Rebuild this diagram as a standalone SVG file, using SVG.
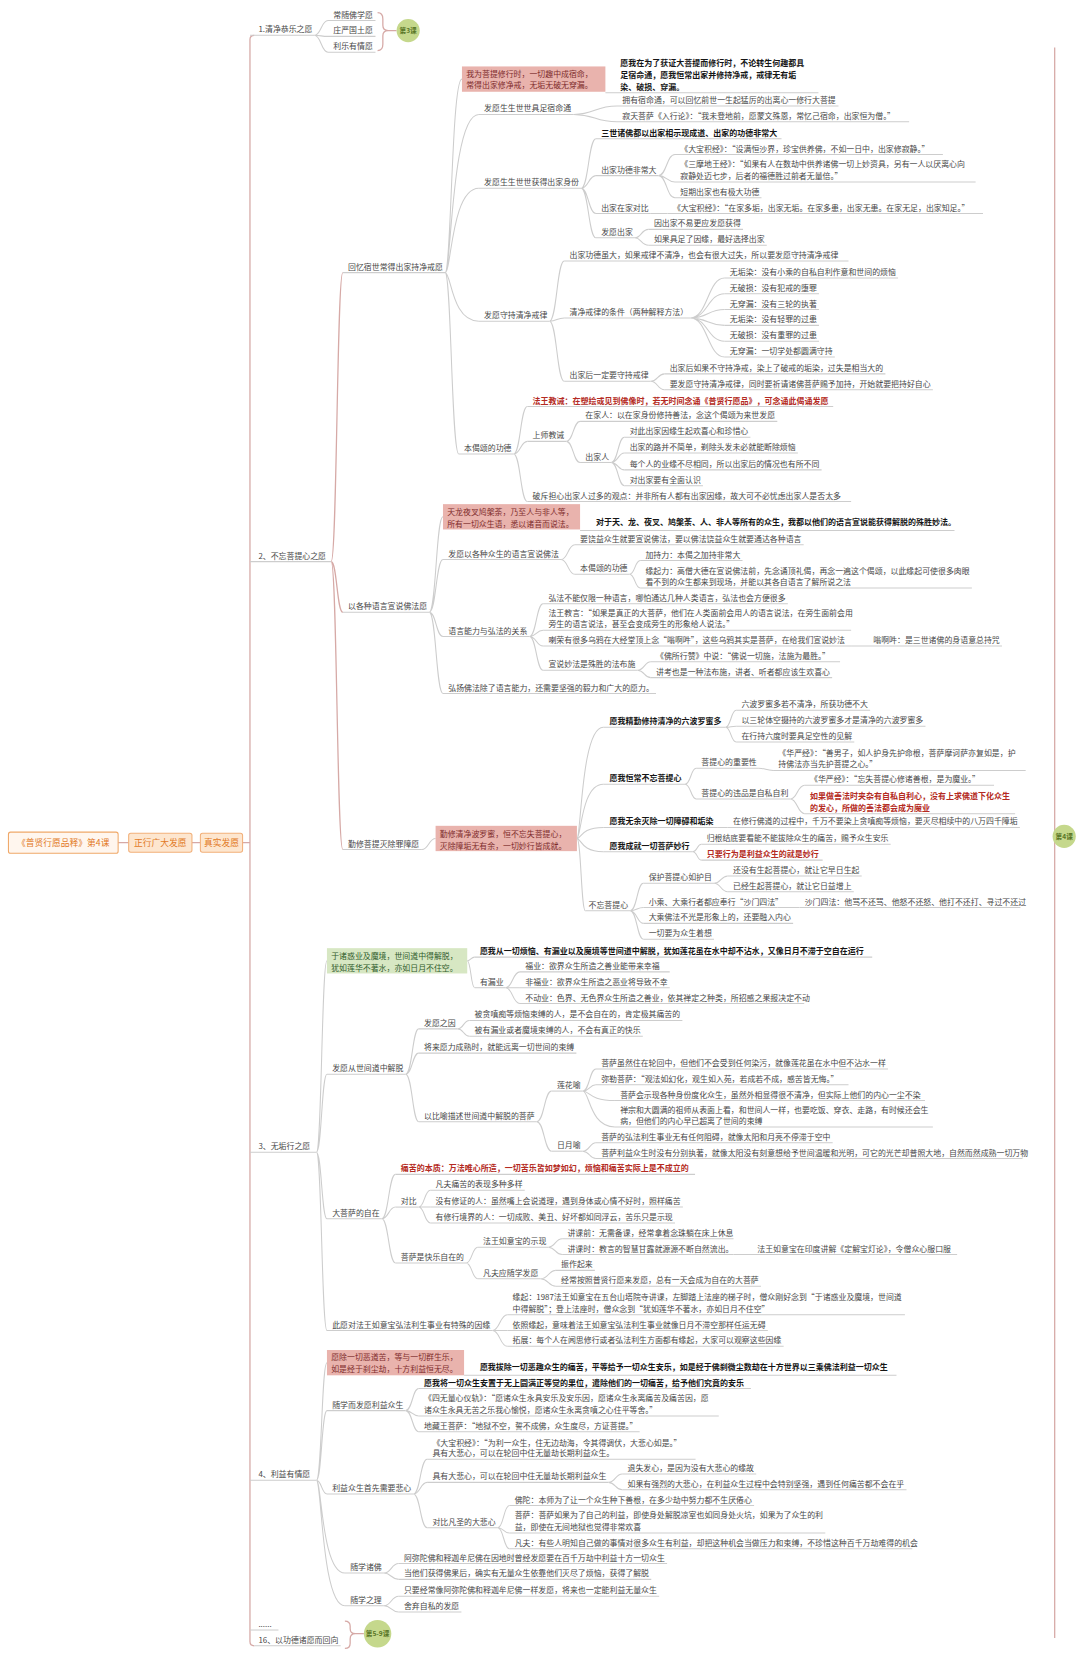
<svg xmlns="http://www.w3.org/2000/svg" width="1080" height="1654" viewBox="0 0 1080 1654">
<style>
.t{font-family:"Noto Sans CJK SC","Noto Sans CJK JP","Noto Sans",sans-serif;font-size:7.5px;fill:#474747}
.b{font-size:7.6px;font-weight:700;fill:#151515}
.r{font-size:7.6px;font-weight:700;fill:#b42a22}
.p{fill:#7e2c2c}
.g{fill:#2f5b2b}
.o{fill:#e27a26;font-size:8.3px}
.u{fill:none;stroke:#cdcdcd;stroke-width:1}
.c{fill:none;stroke:#cdcdcd;stroke-width:1}
.m{fill:none;stroke:#d6a9a6;stroke-width:1.2}
.pb{fill:#e9b3ad}
.gb{fill:#d7e7c3}
.gc{fill:#c5d88c}
.gt{font-size:6.3px;font-weight:700;fill:#587526;text-anchor:middle}
</style>
<rect width="1080" height="1654" fill="#ffffff"/>
<g transform="scale(1.0546875)">
<g id="connectors">
<path class="m" d="M112 799H122M182 799H190M230 799H237M241 33.5Q237 33.5 237 37.5V1556.5Q237 1560.5 241 1560.5"/>
<path class="m" d="M1000 45V1553"/>
<path class="m" d="M358 12Q363 12 363 18V24Q363 29 368 29Q363 29 363 34V42Q363 48 358 48M368 29H376"/>
<path class="m" d="M327 1537Q332 1537 332 1542V1544Q332 1549 337 1549Q332 1549 332 1554V1558Q332 1563 327 1563M337 1549H345"/>
<path class="c" d="M298 33.5C304.5 33.5 304.5 19.5 311 19.5M298 33.5C304.5 33.5 304.5 34.5 311 34.5M298 33.5C304.5 33.5 304.5 49.5 311 49.5"/>
<path class="m" d="M314 532.5C319.5 532.5 319.5 258.5 325 258.5M314 532.5C319.5 532.5 319.5 580.5 325 580.5M314 532.5C319.5 532.5 319.5 805.5 325 805.5"/>
<path class="c" d="M422 258.5C428 258.5 428 75 438 75M422 258.5C428 258.5 428 108.5 454 108.5M422 258.5C428 258.5 428 178.5 454 178.5M422 258.5C428 258.5 428 304.5 454 304.5M422 258.5C428 258.5 428 430.5 435 430.5"/>
<path class="c" d="M544 108.5C564 108.5 564 100.5 585 100.5M544 108.5C564 108.5 564 115.5 585 115.5"/>
<path class="c" d="M551 178.5C558 178.5 558 131.5 565 131.5M551 178.5C558 178.5 558 166.5 565 166.5M551 178.5C558 178.5 558 202.5 565 202.5M551 178.5C558 178.5 558 225.5 565 225.5"/>
<path class="c" d="M624.5 166.5C632 166.5 632 146.5 640 146.5M624.5 166.5C632 166.5 632 172.5 640 172.5M624.5 166.5C632 166.5 632 187.5 640 187.5M617 202.5H633M602 225.5C608 225.5 608 217.5 615 217.5M602 225.5C608 225.5 608 232.5 615 232.5"/>
<path class="c" d="M521 304.5C528 304.5 528 247.5 535 247.5M521 304.5C528 304.5 528 301.5 535 301.5M521 304.5C528 304.5 528 361.5 535 361.5"/>
<path class="c" d="M654.5 301.5C671 301.5 671 263.5 687 263.5M654.5 301.5C671 301.5 671 278.5 687 278.5M654.5 301.5C671 301.5 671 293.5 687 293.5M654.5 301.5C671 301.5 671 308.5 687 308.5M654.5 301.5C671 301.5 671 323.5 687 323.5M654.5 301.5C671 301.5 671 338.5 687 338.5"/>
<path class="c" d="M617 361.5C623.5 361.5 623.5 354.5 630 354.5M617 361.5C623.5 361.5 623.5 369.5 630 369.5"/>
<path class="c" d="M487 430.5C493.5 430.5 493.5 385.5 500 385.5M487 430.5C493.5 430.5 493.5 418.5 500 418.5M487 430.5C493.5 430.5 493.5 475.5 500 475.5M537 418.5C543.5 418.5 543.5 399.5 550 399.5M537 418.5C543.5 418.5 543.5 438.5 550 438.5"/>
<path class="c" d="M579.5 438.5C586 438.5 586 414.5 592 414.5M579.5 438.5C586 438.5 586 429.5 592 429.5M579.5 438.5C586 438.5 586 445.5 592 445.5M579.5 438.5C586 438.5 586 460.5 592 460.5"/>
<path class="c" d="M407 580.5C413.5 580.5 413.5 490 420 490M407 580.5C413.5 580.5 413.5 530.5 420 530.5M407 580.5C413.5 580.5 413.5 603.5 420 603.5M407 580.5C413.5 580.5 413.5 657.5 420 657.5"/>
<path class="c" d="M532 530.5C538.5 530.5 538.5 516.5 545 516.5M532 530.5C538.5 530.5 538.5 544.5 545 544.5M597 544.5C602 544.5 602 531.5 607 531.5M597 544.5C602 544.5 602 557.5 607 557.5"/>
<path class="c" d="M502 603.5C508.5 603.5 508.5 572.5 515 572.5M502 603.5C508.5 603.5 508.5 597.5 515 597.5M502 603.5C508.5 603.5 508.5 612.5 515 612.5M502 603.5C508.5 603.5 508.5 635.5 515 635.5M807 612.5H823M604.5 635.5C611 635.5 611 627.5 617 627.5M604.5 635.5C611 635.5 611 642.5 617 642.5"/>
<path class="c" d="M400 805.5C406.5 805.5 406.5 795 413 795"/>
<path class="c" d="M547 795C551 795 551 689.5 572 689.5M547 795C551 795 551 743.5 572 743.5M547 795C551 795 551 784.5 572 784.5M547 795C551 795 551 807.5 572 807.5M547 795C551 795 551 863.5 555 863.5"/>
<path class="c" d="M688 689.5C693 689.5 693 673.5 698 673.5M688 689.5C693 689.5 693 688.5 698 688.5M688 689.5C693 689.5 693 703.5 698 703.5M649.5 743.5C655 743.5 655 728.5 660 728.5M649.5 743.5C655 743.5 655 757.5 660 757.5M719.5 728.5C726 728.5 726 730.5 733 730.5M749.5 757.5C756 757.5 756 744.5 763 744.5M749.5 757.5C756 757.5 756 771.5 763 771.5M680 784.5H690M657 807.5C661 807.5 661 800.5 665 800.5M657 807.5C661 807.5 661 815.5 665 815.5"/>
<path class="c" d="M597.5 863.5C604 863.5 604 837.5 610 837.5M597.5 863.5C604 863.5 604 860.5 610 860.5M597.5 863.5C604 863.5 604 875.5 610 875.5M597.5 863.5C604 863.5 604 890.5 610 890.5M677 837.5C683.5 837.5 683.5 830.5 690 830.5M677 837.5C683.5 837.5 683.5 845.5 690 845.5M737 860.5H758"/>
<path class="c" d="M300 1092.5C305 1092.5 305 911 310 911M300 1092.5C305 1092.5 305 1018.5 310 1018.5M300 1092.5C305 1092.5 305 1155.5 310 1155.5M300 1092.5C305 1092.5 305 1261.5 310 1261.5"/>
<path class="c" d="M443 911C446.5 911 446.5 907.5 450 907.5M443 911C446.5 911 446.5 936.5 450 936.5M479.5 936.5C486 936.5 486 921.5 493 921.5M479.5 936.5C486 936.5 486 936.5 493 936.5M479.5 936.5C486 936.5 486 951.5 493 951.5"/>
<path class="c" d="M384.5 1018.5C391 1018.5 391 975.5 397 975.5M384.5 1018.5C391 1018.5 391 998.5 397 998.5M384.5 1018.5C391 1018.5 391 1063.5 397 1063.5M434 975.5C439.5 975.5 439.5 967.5 445 967.5M434 975.5C439.5 975.5 439.5 982.5 445 982.5"/>
<path class="c" d="M509 1063.5C516 1063.5 516 1034.5 523 1034.5M509 1063.5C516 1063.5 516 1091.5 523 1091.5M552.5 1034.5C559 1034.5 559 1013.5 565 1013.5M552.5 1034.5C559 1034.5 559 1028.5 565 1028.5M552.5 1034.5C559 1034.5 559 1043.5 583 1043.5M552.5 1034.5C559 1034.5 559 1068.5 583 1068.5M552.5 1091.5C559 1091.5 559 1083.5 565 1083.5M552.5 1091.5C559 1091.5 559 1098.5 565 1098.5"/>
<path class="c" d="M362 1155.5C368.5 1155.5 368.5 1113.5 375 1113.5M362 1155.5C368.5 1155.5 368.5 1144.5 375 1144.5M362 1155.5C368.5 1155.5 368.5 1197.5 375 1197.5M397 1144.5C402.5 1144.5 402.5 1128.5 408 1128.5M397 1144.5H408M397 1144.5C402.5 1144.5 402.5 1159.5 408 1159.5"/>
<path class="c" d="M442 1197.5C447.5 1197.5 447.5 1182.5 453 1182.5M442 1197.5C447.5 1197.5 447.5 1212.5 453 1212.5M520 1182.5C526.5 1182.5 526.5 1174.5 533 1174.5M520 1182.5C526.5 1182.5 526.5 1189.5 533 1189.5M695.5 1189.5H713M512.5 1212.5C520 1212.5 520 1204.5 527 1204.5M512.5 1212.5C520 1212.5 520 1219.5 527 1219.5"/>
<path class="c" d="M467 1261.5C474 1261.5 474 1246.5 481 1246.5M467 1261.5H481M467 1261.5C474 1261.5 474 1276.5 481 1276.5"/>
<path class="c" d="M300 1403.5C305 1403.5 305 1292 310 1292M300 1403.5C305 1403.5 305 1337.5 310 1337.5M300 1403.5C305 1403.5 305 1416.5 310 1416.5M300 1403.5C305 1403.5 305 1491.5 327 1491.5M300 1403.5C305 1403.5 305 1522.5 327 1522.5"/>
<path class="c" d="M384.5 1337.5C391 1337.5 391 1316.5 397 1316.5M384.5 1337.5C391 1337.5 391 1342.5 397 1342.5M384.5 1337.5C391 1337.5 391 1357.5 397 1357.5"/>
<path class="c" d="M392 1416.5C398.5 1416.5 398.5 1383.5 405 1383.5M392 1416.5C398.5 1416.5 398.5 1405.5 405 1405.5M392 1416.5C398.5 1416.5 398.5 1448.5 405 1448.5M577 1405.5C583.5 1405.5 583.5 1397.5 590 1397.5M577 1405.5C583.5 1405.5 583.5 1412.5 590 1412.5"/>
<path class="c" d="M472 1448.5C477.5 1448.5 477.5 1427.5 483 1427.5M472 1448.5C477.5 1448.5 477.5 1453.5 483 1453.5M472 1448.5C477.5 1448.5 477.5 1468.5 483 1468.5"/>
<path class="c" d="M364 1491.5C371 1491.5 371 1482.5 378 1482.5M364 1491.5C371 1491.5 371 1497.5 378 1497.5M364 1522.5C371 1522.5 371 1513.5 378 1513.5M364 1522.5C371 1522.5 371 1528.5 378 1528.5"/>
</g>

<g id="root"><rect x="8" y="789" width="104" height="20" rx="2" fill="#fff6ee" stroke="#f0a868"/><text class="t o" x="60" y="801.8" text-anchor="middle">《普贤行愿品释》第4课</text></g>
<g id="n-zhengxing"><rect x="122" y="790" width="60" height="18" rx="2" fill="#fde6cf" stroke="#f2b07a"/><text class="t o" x="152" y="801.8" text-anchor="middle">正行广大发愿</text></g>
<g id="n-zhenshi"><rect x="190" y="790" width="40" height="18" rx="2" fill="#fde6cf" stroke="#f2b07a"/><text class="t o" x="210" y="801.8" text-anchor="middle">真实发愿</text></g>

<g id="lesson-3"><circle class="gc" cx="387" cy="29" r="11"/><text class="t gt" x="387" y="31.3">第3课</text></g>
<g id="lesson-4"><circle class="gc" cx="1009" cy="793" r="11"/><text class="t gt" x="1009" y="795.3">第4课</text></g>
<g id="lesson-5-9"><circle class="gc" cx="358" cy="1549" r="13"/><text class="t gt" x="358" y="1551.3">第5-9课</text></g>

<g id="s1"><text class="t" x="245" y="30.7">1.清净恭乐之愿</text><path class="u" d="M237 33.5H298"/></g>
<g id="s1-1"><text class="t" x="316" y="16.7">常随佛学愿</text><path class="u" d="M311 19.5H356"/></g>
<g id="s1-2"><text class="t" x="316" y="31.7">庄严国土愿</text><path class="u" d="M311 34.5H356"/></g>
<g id="s1-3"><text class="t" x="316" y="46.7">利乐有情愿</text><path class="u" d="M311 49.5H356"/></g>
<g id="s2"><text class="t" x="245" y="529.7">2、不忘菩提心之愿</text><path class="u" d="M237 532.5H314"/></g>
<g id="s3"><text class="t" x="245" y="1089.7">3、无垢行之愿</text><path class="u" d="M237 1092.5H300"/></g>
<g id="s4"><text class="t" x="245" y="1400.7">4、利益有情愿</text><path class="u" d="M237 1403.5H300"/></g>
<g id="s5"><text class="t" x="245" y="1542.7">......</text><path class="u" d="M237 1545.5H264"/></g>
<g id="s16"><text class="t" x="245" y="1557.7">16、以功德诸愿而回向</text><path class="u" d="M241 1560.5H323"/></g>

<g id="a"><text class="t" x="330" y="255.7">回忆宿世常得出家持净戒愿</text><path class="u" d="M325 258.5H422"/></g>
<g id="a1"><rect class="pb" x="438" y="63" width="136" height="24"/><text class="t p" x="442" y="72.7">我为菩提修行时，一切趣中成宿命，</text><text class="t p" x="442" y="83.7">常得出家修净戒，无垢无破无穿漏。</text>
<text class="t b" x="588" y="62.9">愿我在为了获证大菩提而修行时，不论转生何趣都具</text><text class="t b" x="588" y="73.9">足宿命通，愿我恒常出家并修持净戒，戒律无有垢</text><text class="t b" x="588" y="84.9">染、破损、穿漏。</text><path class="u" d="M574 88H776"/></g>
<g id="a2"><text class="t" x="459" y="105.7">发愿生生世世具足宿命通</text><path class="u" d="M454 108.5H544"/></g>
<g id="a2-1"><text class="t" x="590" y="97.7">拥有宿命通，可以回忆前世一生起猛厉的出离心一修行大菩提</text><path class="u" d="M585 100.5H795"/></g>
<g id="a2-2"><text class="t" x="590" y="112.7">寂天菩萨《入行论》：“我未登地前，愿蒙文殊恩，常忆己宿命，出家恒为僧。”</text><path class="u" d="M585 115.5H862"/></g>
<g id="a3"><text class="t" x="459" y="175.7">发愿生生世世获得出家身份</text><path class="u" d="M454 178.5H551"/></g>
<g id="a3-1"><text class="t b" x="570" y="128.7">三世诸佛都以出家相示现成道、出家的功德非常大</text><path class="u" d="M565 131.5H741"/></g>
<g id="a3-2"><text class="t" x="570" y="163.7">出家功德非常大</text><path class="u" d="M565 166.5H624.5"/></g>
<g id="a3-2-1"><text class="t" x="645" y="143.7">《大宝积经》：“设满恒沙界，珍宝供养佛，不如一日中，出家修寂静。”</text><path class="u" d="M640 146.5H894"/></g>
<g id="a3-2-2"><text class="t" x="645" y="158.7">《三摩地王经》：“如果有人在数劫中供养诸佛一切上妙资具，另有一人以厌离心向</text><text class="t" x="645" y="169.7">寂静处迈七步，后者的福德胜过前者无量倍。”</text><path class="u" d="M640 172.5H925" stroke="#e3b7b7"/></g>
<g id="a3-2-3"><text class="t" x="645" y="184.7">短期出家也有极大功德</text><path class="u" d="M640 187.5H722"/></g>
<g id="a3-3"><text class="t" x="570" y="199.7">出家在家对比</text><path class="u" d="M565 202.5H617"/></g>
<g id="a3-3-1"><text class="t" x="638" y="199.7">《大宝积经》：“在家多垢，出家无垢。在家多患，出家无患。在家无足，出家知足。”</text><path class="u" d="M633 202.5H932"/></g>
<g id="a3-4"><text class="t" x="570" y="222.7">发愿出家</text><path class="u" d="M565 225.5H602"/></g>
<g id="a3-4-1"><text class="t" x="620" y="214.7">因出家不易更应发愿获得</text><path class="u" d="M615 217.5H704.5"/></g>
<g id="a3-4-2"><text class="t" x="620" y="229.7">如果具足了因缘，最好选择出家</text><path class="u" d="M615 232.5H727"/></g>
<g id="a4"><text class="t" x="459" y="301.7">发愿守持清净戒律</text><path class="u" d="M454 304.5H521"/></g>
<g id="a4-1"><text class="t" x="540" y="244.7">出家功德虽大，如果戒律不清净，也会有很大过失，所以要发愿守持清净戒律</text><path class="u" d="M535 247.5H804.5"/></g>
<g id="a4-2"><text class="t" x="540" y="298.7">清净戒律的条件（两种解释方法）</text><path class="u" d="M535 301.5H654.5"/></g>
<g id="a4-2-1"><text class="t" x="692" y="260.7">无垢染：没有小乘的自私自利作意和世间的烦恼</text><path class="u" d="M687 263.5H851.5"/></g>
<g id="a4-2-2"><text class="t" x="692" y="275.7">无破损：没有犯戒的堕罪</text><path class="u" d="M687 278.5H776.5"/></g>
<g id="a4-2-3"><text class="t" x="692" y="290.7">无穿漏：没有三轮的执著</text><path class="u" d="M687 293.5H776.5"/></g>
<g id="a4-2-4"><text class="t" x="692" y="305.7">无垢染：没有轻罪的过患</text><path class="u" d="M687 308.5H776.5"/></g>
<g id="a4-2-5"><text class="t" x="692" y="320.7">无破损：没有重罪的过患</text><path class="u" d="M687 323.5H776.5"/></g>
<g id="a4-2-6"><text class="t" x="692" y="335.7">无穿漏：一切学处都圆满守持</text><path class="u" d="M687 338.5H791.5"/></g>
<g id="a4-3"><text class="t" x="540" y="358.7">出家后一定要守持戒律</text><path class="u" d="M535 361.5H617"/></g>
<g id="a4-3-1"><text class="t" x="635" y="351.7">出家后如果不守持净戒，染上了破戒的垢染，过失是相当大的</text><path class="u" d="M630 354.5H839.5"/></g>
<g id="a4-3-2"><text class="t" x="635" y="366.7">要发愿守持清净戒律，同时要祈请诸佛菩萨赐予加持，开始就要把持好自心</text><path class="u" d="M630 369.5H884.5"/></g>
<g id="a5"><text class="t" x="440" y="427.7">本偈颂的功德</text><path class="u" d="M435 430.5H487"/></g>
<g id="a5-1"><text class="t r" x="505" y="382.7">法王教诫：在塑绘或见到佛像时，若无时间念诵《普贤行愿品》，可念诵此偈诵发愿</text><path class="u" d="M500 385.5H790"/></g>
<g id="a5-2"><text class="t" x="505" y="415.7">上师教诫</text><path class="u" d="M500 418.5H537"/></g>
<g id="a5-2-1"><text class="t" x="555" y="396.7">在家人：以在家身份修持善法，念这个偈颂为来世发愿</text><path class="u" d="M550 399.5H737"/></g>
<g id="a5-2-2"><text class="t" x="555" y="435.7">出家人</text><path class="u" d="M550 438.5H579.5"/></g>
<g id="a5-2-2-1"><text class="t" x="597" y="411.7">对此出家因缘生起欢喜心和珍惜心</text><path class="u" d="M592 414.5H711.5"/></g>
<g id="a5-2-2-2"><text class="t" x="597" y="426.7">出家的路并不简单，剃除头发未必就能断除烦恼</text><path class="u" d="M592 429.5H756.5"/></g>
<g id="a5-2-2-3"><text class="t" x="597" y="442.7">每个人的业缘不尽相同，所以出家后的情况也有所不同</text><path class="u" d="M592 445.5H779"/></g>
<g id="a5-2-2-4"><text class="t" x="597" y="457.7">对出家要有全面认识</text><path class="u" d="M592 460.5H666.5"/></g>
<g id="a5-3"><text class="t" x="505" y="472.7">破斥担心出家人过多的观点：并非所有人都有出家因缘，故大可不必忧虑出家人是否太多</text><path class="u" d="M500 475.5H807"/></g>

<g id="b"><text class="t" x="330" y="577.7">以各种语言宣说佛法愿</text><path class="u" d="M325 580.5H407"/></g>
<g id="b1"><rect class="pb" x="420" y="478" width="130" height="24"/><text class="t p" x="424" y="488.7">天龙夜叉鸠槃荼，乃至人与非人等，</text><text class="t p" x="424" y="499.7">所有一切众生语，悉以诸音而说法。</text><text class="t b" x="565" y="497.9">对于天、龙、夜叉、鸠槃荼、人、非人等所有的众生，我都以他们的语言宣说能获得解脱的殊胜妙法。</text><path class="u" d="M550 503H905"/></g>
<g id="b2"><text class="t" x="425" y="527.7">发愿以各种众生的语言宣说佛法</text><path class="u" d="M420 530.5H532"/></g>
<g id="b2-1"><text class="t" x="550" y="513.7">要饶益众生就要宣说佛法，要以佛法饶益众生就要通达各种语言</text><path class="u" d="M545 516.5H762"/></g>
<g id="b2-2"><text class="t" x="550" y="541.7">本偈颂的功德</text><path class="u" d="M545 544.5H597"/></g>
<g id="b2-2-1"><text class="t" x="612" y="528.7">加持力：本偈之加持非常大</text><path class="u" d="M607 531.5H704"/></g>
<g id="b2-2-2"><text class="t" x="612" y="544.7">缘起力：高僧大德在宣说佛法前，先念诵顶礼偈，再念一遍这个偈颂，以此缘起可使很多肉眼</text><text class="t" x="612" y="554.7">看不到的众生都来到现场，并能以其各自语言了解所说之法</text><path class="u" d="M607 557.5H921.5"/></g>
<g id="b3"><text class="t" x="425" y="600.7">语言能力与弘法的关系</text><path class="u" d="M420 603.5H502"/></g>
<g id="b3-1"><text class="t" x="520" y="569.7">弘法不能仅限一种语言，哪怕通达几种人类语言，弘法也会方便很多</text><path class="u" d="M515 572.5H747"/></g>
<g id="b3-2"><text class="t" x="520" y="583.7">法王教言：“如果是真正的大菩萨，他们在人类面前会用人的语言说法，在旁生面前会用</text><text class="t" x="520" y="594.7">旁生的语言说法，甚至会变成旁生的形象给人说法。”</text><path class="u" d="M515 597.5H807"/></g>
<g id="b3-3"><text class="t" x="520" y="609.7">喇荣有很多乌鸦在大经堂顶上念“嗡啊吽”，这些乌鸦其实是菩萨，在给我们宣说妙法</text><path class="u" d="M515 612.5H807"/></g>
<g id="b3-3-1"><text class="t" x="828" y="609.7">嗡啊吽：是三世诸佛的身语意总持咒</text><path class="u" d="M823 612.5H950"/></g>
<g id="b3-4"><text class="t" x="520" y="632.7">宣说妙法是殊胜的法布施</text><path class="u" d="M515 635.5H604.5"/></g>
<g id="b3-4-1"><text class="t" x="622" y="624.7">《佛所行赞》中说：“佛说一切施，法施为最胜。”</text><path class="u" d="M617 627.5H796.5"/></g>
<g id="b3-4-2"><text class="t" x="622" y="639.7">讲考也是一种法布施，讲者、听者都应该生欢喜心</text><path class="u" d="M617 642.5H789"/></g>
<g id="b4"><text class="t" x="425" y="654.7">弘扬佛法除了语言能力，还需要坚强的毅力和广大的愿力。</text><path class="u" d="M420 657.5H622"/></g>

<g id="c"><text class="t" x="330" y="802.7">勤修菩提灭除罪障愿</text><path class="u" d="M325 805.5H400"/></g>
<g id="c1"><rect class="pb" x="413" y="783" width="134" height="24"/><text class="t p" x="417" y="793.7">勤修清净波罗蜜，恒不忘失菩提心，</text><text class="t p" x="417" y="804.7">灭除障垢无有余，一切妙行皆成就。</text></g>
<g id="c1-1"><text class="t b" x="578" y="686.7">愿我精勤修持清净的六波罗蜜多</text><path class="u" d="M572 689.5H688"/></g>
<g id="c1-1-1"><text class="t" x="703" y="670.7">六波罗蜜多若不清净，所获功德不大</text><path class="u" d="M698 673.5H825"/></g>
<g id="c1-1-2"><text class="t" x="703" y="685.7">以三轮体空摄持的六波罗蜜多才是清净的六波罗蜜多</text><path class="u" d="M698 688.5H877.5"/></g>
<g id="c1-1-3"><text class="t" x="703" y="700.7">在行持六度时要具足空性的见解</text><path class="u" d="M698 703.5H810"/></g>
<g id="c1-2"><text class="t b" x="578" y="740.7">愿我恒常不忘菩提心</text><path class="u" d="M572 743.5H649.5"/></g>
<g id="c1-2-1"><text class="t" x="665" y="725.7">菩提心的重要性</text><path class="u" d="M660 728.5H719.5"/></g>
<g id="c1-2-1-1"><text class="t" x="738" y="716.7">《华严经》：“善男子，如人护身先护命根，菩萨摩诃萨亦复如是，护</text><text class="t" x="738" y="727.7">持佛法亦当先护菩提之心。”</text><path class="u" d="M733 730.5H972.5"/></g>
<g id="c1-2-2"><text class="t" x="665" y="754.7">菩提心的违品是自私自利</text><path class="u" d="M660 757.5H749.5"/></g>
<g id="c1-2-2-1"><text class="t" x="768" y="741.7">《华严经》：“忘失菩提心修诸善根，是为魔业。”</text><path class="u" d="M763 744.5H942.5"/></g>
<g id="c1-2-2-2"><text class="t r" x="768" y="757.7">如果做善法时夹杂有自私自利心，没有上求佛道下化众生</text><text class="t r" x="768" y="768.7">的发心，所做的善法都会成为魔业</text><path class="u" d="M763 771.5H962.5" stroke="#e3b7b7"/></g>
<g id="c1-3"><text class="t b" x="578" y="781.7">愿我无余灭除一切障碍和垢染</text><path class="u" d="M572 784.5H680"/></g>
<g id="c1-3-1"><text class="t" x="695" y="781.7">在修行佛道的过程中，千万不要染上贪嗔痴等烦恼，要灭尽相续中的八万四千障垢</text><path class="u" d="M690 784.5H967"/></g>
<g id="c1-4"><text class="t b" x="578" y="804.7">愿我成就一切菩萨妙行</text><path class="u" d="M572 807.5H657"/></g>
<g id="c1-4-1"><text class="t" x="670" y="797.7">归根结底要看能不能拔除众生的痛苦，赐予众生安乐</text><path class="u" d="M665 800.5H844.5"/></g>
<g id="c1-4-2"><text class="t r" x="670" y="812.7">只要行为是利益众生的就是妙行</text><path class="u" d="M665 815.5H780" stroke="#e3b7b7"/></g>
<g id="c1-5"><text class="t" x="558" y="860.7">不忘菩提心</text><path class="u" d="M555 863.5H597.5"/></g>
<g id="c1-5-1"><text class="t" x="615" y="834.7">保护菩提心如护目</text><path class="u" d="M610 837.5H677"/></g>
<g id="c1-5-1-1"><text class="t" x="695" y="827.7">还没有生起菩提心，就让它早日生起</text><path class="u" d="M690 830.5H817"/></g>
<g id="c1-5-1-2"><text class="t" x="695" y="842.7">已经生起菩提心，就让它日益增上</text><path class="u" d="M690 845.5H809.5"/></g>
<g id="c1-5-2"><text class="t" x="615" y="857.7">小乘、大乘行者都应奉行“沙门四法”</text><path class="u" d="M610 860.5H737"/></g>
<g id="c1-5-2-1"><text class="t" x="763" y="857.7">沙门四法：他骂不还骂、他怒不还怒、他打不还打、寻过不还过</text><path class="u" d="M758 860.5H967.5"/></g>
<g id="c1-5-3"><text class="t" x="615" y="872.7">大乘佛法不光是形象上的，还要融入内心</text><path class="u" d="M610 875.5H752"/></g>
<g id="c1-5-4"><text class="t" x="615" y="887.7">一切要为众生着想</text><path class="u" d="M610 890.5H677"/></g>

<g id="d1"><rect class="gb" x="310" y="899" width="133" height="24"/><text class="t g" x="314" y="909.7">于诸惑业及魔境，世间道中得解脱，</text><text class="t g" x="314" y="920.7">犹如莲华不著水，亦如日月不住空。</text></g>
<g id="d1-1"><text class="t b" x="455" y="904.9">愿我从一切烦恼、有漏业以及魔境等世间道中解脱，犹如莲花虽在水中却不沾水，又像日月不滞于空自在运行</text><path class="u" d="M450 907.5H827"/></g>
<g id="d1-2"><text class="t" x="455" y="933.7">有漏业</text><path class="u" d="M450 936.5H479.5"/></g>
<g id="d1-2-1"><text class="t" x="498" y="918.7">福业：欲界众生所造之善业能带来幸福</text><path class="u" d="M493 921.5H635"/></g>
<g id="d1-2-2"><text class="t" x="498" y="933.7">非福业：欲界众生所造之恶业将导致不幸</text><path class="u" d="M493 936.5H635"/></g>
<g id="d1-2-3"><text class="t" x="498" y="948.7">不动业：色界、无色界众生所造之善业，依其禅定之种类，所招感之果报决定不动</text><path class="u" d="M493 951.5H762.5"/></g>
<g id="d2"><text class="t" x="315" y="1015.7">发愿从世间道中解脱</text><path class="u" d="M310 1018.5H384.5"/></g>
<g id="d2-1"><text class="t" x="402" y="972.7">发愿之因</text><path class="u" d="M397 975.5H434"/></g>
<g id="d2-1-1"><text class="t" x="450" y="964.7">被贪嗔痴等烦恼束缚的人，是不会自在的，肯定极其痛苦的</text><path class="u" d="M445 967.5H647"/></g>
<g id="d2-1-2"><text class="t" x="450" y="979.7">被有漏业或者魔境束缚的人，不会有真正的快乐</text><path class="u" d="M445 982.5H609.5"/></g>
<g id="d2-2"><text class="t" x="402" y="995.7">将来愿力成熟时，就能远离一切世间的束缚</text><path class="u" d="M397 998.5H546.5"/></g>
<g id="d2-3"><text class="t" x="402" y="1060.7">以比喻描述世间道中解脱的菩萨</text><path class="u" d="M397 1063.5H509"/></g>
<g id="d2-3-1"><text class="t" x="528" y="1031.7">莲花喻</text><path class="u" d="M523 1034.5H552.5"/></g>
<g id="d2-3-1-1"><text class="t" x="570" y="1010.7">菩萨虽然住在轮回中，但他们不会受到任何染污，就像莲花虽在水中但不沾水一样</text><path class="u" d="M565 1013.5H842"/></g>
<g id="d2-3-1-2"><text class="t" x="570" y="1025.7">弥勒菩萨：“观法如幻化，观生如入苑，若成若不成，感苦皆无悔。”</text><path class="u" d="M565 1028.5H804.5"/></g>
<g id="d2-3-1-3"><text class="t" x="588" y="1040.7">菩萨会示现各种身份度化众生，虽然外相显得很不清净，但实际上他们的内心一尘不染</text><path class="u" d="M583 1043.5H877"/></g>
<g id="d2-3-1-4"><text class="t" x="588" y="1055.7">禅宗和大圆满的祖师从表面上看，和世间人一样，也要吃饭、穿衣、走路，有时候还会生</text><text class="t" x="588" y="1065.7">病，但他们的内心早已超离了世间的束缚</text><path class="u" d="M583 1068.5H884.5"/></g>
<g id="d2-3-2"><text class="t" x="528" y="1088.7">日月喻</text><path class="u" d="M523 1091.5H552.5"/></g>
<g id="d2-3-2-1"><text class="t" x="570" y="1080.7">菩萨的弘法利生事业无有任何阻碍，就像太阳和月亮不停滞于空中</text><path class="u" d="M565 1083.5H789.5"/></g>
<g id="d2-3-2-2"><text class="t" x="570" y="1095.7">菩萨利益众生时没有分别执著，就像太阳没有刻意想给予世间温暖和光明，可它的光芒却普照大地，自然而然成熟一切万物</text><path class="u" d="M565 1098.5H969.5"/></g>
<g id="d3"><text class="t" x="315" y="1152.7">大菩萨的自在</text><path class="u" d="M310 1155.5H362"/></g>
<g id="d3-1"><text class="t r" x="380" y="1110.7">痛苦的本质：万法唯心所造，一切苦乐皆如梦如幻，烦恼和痛苦实际上是不成立的</text><path class="u" d="M375 1113.5H659" stroke="#e3b7b7"/></g>
<g id="d3-2"><text class="t" x="380" y="1141.7">对比</text><path class="u" d="M375 1144.5H397"/></g>
<g id="d3-2-1"><text class="t" x="413" y="1125.7">凡夫痛苦的表现多种多样</text><path class="u" d="M408 1128.5H497.5"/></g>
<g id="d3-2-2"><text class="t" x="413" y="1141.7">没有修证的人：虽然嘴上会说道理，遇到身体或心情不好时，照样痛苦</text><path class="u" d="M408 1144.5H647.5"/></g>
<g id="d3-2-3"><text class="t" x="413" y="1156.7">有修行境界的人：一切成败、美丑、好坏都如同浮云，苦乐只是示现</text><path class="u" d="M408 1159.5H640"/></g>
<g id="d3-3"><text class="t" x="380" y="1194.7">菩萨是快乐自在的</text><path class="u" d="M375 1197.5H442"/></g>
<g id="d3-3-1"><text class="t" x="458" y="1179.7">法王如意宝的示现</text><path class="u" d="M453 1182.5H520"/></g>
<g id="d3-3-1-1"><text class="t" x="538" y="1171.7">讲课前：无需备课，经常拿着念珠躺在床上休息</text><path class="u" d="M533 1174.5H695.5"/></g>
<g id="d3-3-1-2"><text class="t" x="538" y="1186.7">讲课时：教言的智慧甘露就源源不断自然流出。</text><path class="u" d="M533 1189.5H695.5"/></g>
<g id="d3-3-1-2-1"><text class="t" x="718" y="1186.7">法王如意宝在印度讲解《定解宝灯论》，令僧众心服口服</text><path class="u" d="M713 1189.5H907.5"/></g>
<g id="d3-3-2"><text class="t" x="458" y="1209.7">凡夫应随学发愿</text><path class="u" d="M453 1212.5H512.5"/></g>
<g id="d3-3-2-1"><text class="t" x="532" y="1201.7">振作起来</text><path class="u" d="M527 1204.5H564"/></g>
<g id="d3-3-2-2"><text class="t" x="532" y="1216.7">经常按照普贤行愿来发愿，总有一天会成为自在的大菩萨</text><path class="u" d="M527 1219.5H721.5"/></g>
<g id="d4"><text class="t" x="315" y="1258.7">此愿对法王如意宝弘法利生事业有特殊的因缘</text><path class="u" d="M310 1261.5H467"/></g>
<g id="d4-1"><text class="t" x="486" y="1232.7">缘起：1987法王如意宝在五台山塔院寺讲课，左脚踏上法座的梯子时，僧众刚好念到“于诸惑业及魔境，世间道</text><text class="t" x="486" y="1243.7">中得解脱”；登上法座时，僧众念到“犹如莲华不著水，亦如日月不住空”</text><path class="u" d="M481 1246.5H858"/></g>
<g id="d4-2"><text class="t" x="486" y="1258.7">依照缘起，意味着法王如意宝弘法利生事业就像日月不滞空那样任运无碍</text><path class="u" d="M481 1261.5H728"/></g>
<g id="d4-3"><text class="t" x="486" y="1273.7">拓展：每个人在闻思修行或者弘法利生方面都有缘起，大家可以观察这些因缘</text><path class="u" d="M481 1276.5H743"/></g>

<g id="e1"><rect class="pb" x="310" y="1280" width="130" height="24"/><text class="t p" x="314" y="1289.7">愿除一切恶道苦，等与一切群生乐，</text><text class="t p" x="314" y="1300.7">如是经于刹尘劫，十方利益恒无尽。</text><text class="t b" x="455" y="1298.9">愿我拔除一切恶趣众生的痛苦，平等给予一切众生安乐，如是经于佛刹微尘数劫在十方世界以三乘佛法利益一切众生</text><path class="u" d="M440 1304H850"/></g>
<g id="e2"><text class="t" x="315" y="1334.7">随学而发愿利益众生</text><path class="u" d="M310 1337.5H384.5"/></g>
<g id="e2-1"><text class="t b" x="402" y="1313.7">愿我将一切众生安置于无上圆满正等觉的果位，遣除他们的一切痛苦，给予他们究竟的安乐</text><path class="u" d="M397 1316.5H712"/></g>
<g id="e2-2"><text class="t" x="402" y="1328.7">《四无量心仪轨》：“愿诸众生永具安乐及安乐因，愿诸众生永离痛苦及痛苦因，愿</text><text class="t" x="402" y="1339.7">诸众生永具无苦之乐我心愉悦，愿诸众生永离贪嗔之心住平等舍。”</text><path class="u" d="M397 1342.5H681.5"/></g>
<g id="e2-3"><text class="t" x="402" y="1354.7">地藏王菩萨：“地狱不空，誓不成佛，众生度尽，方证菩提。”</text><path class="u" d="M397 1357.5H606.5"/></g>
<g id="e3"><text class="t" x="315" y="1413.7">利益众生首先需要悲心</text><path class="u" d="M310 1416.5H392"/></g>
<g id="e3-1"><text class="t" x="410" y="1370.7">《大宝积经》：“为利一众生，住无边劫海，令其得调伏，大悲心如是。”</text><text class="t" x="410" y="1380.7">具有大悲心，可以在轮回中住无量劫长期利益众生。</text><path class="u" d="M405 1383.5H659.5"/></g>
<g id="e3-2"><text class="t" x="410" y="1402.7">具有大悲心，可以在轮回中住无量劫长期利益众生</text><path class="u" d="M405 1405.5H577"/></g>
<g id="e3-2-1"><text class="t" x="595" y="1394.7">退失发心，是因为没有大悲心的缘故</text><path class="u" d="M590 1397.5H717"/></g>
<g id="e3-2-2"><text class="t" x="595" y="1409.7">如果有强烈的大悲心，在利益众生过程中会特别坚强，遇到任何痛苦都不会在乎</text><path class="u" d="M590 1412.5H859.5"/></g>
<g id="e3-3"><text class="t" x="410" y="1445.7">对比凡圣的大悲心</text><path class="u" d="M405 1448.5H472"/></g>
<g id="e3-3-1"><text class="t" x="488" y="1424.7">佛陀：本师为了让一个众生种下善根，在多少劫中努力都不生厌倦心</text><path class="u" d="M483 1427.5H715"/></g>
<g id="e3-3-2"><text class="t" x="488" y="1439.7">菩萨：菩萨如果为了自己的利益，即使身处解脱凉室也如同身处火坑，如果为了众生的利</text><text class="t" x="488" y="1450.7">益，即使在无间地狱也觉得非常欢喜</text><path class="u" d="M483 1453.5H782.5"/></g>
<g id="e3-3-3"><text class="t" x="488" y="1465.7">凡夫：有些人明知自己做的事情对很多众生有利益，却把这种机会当做压力和束缚，不珍惜这种百千万劫难得的机会</text><path class="u" d="M483 1468.5H865"/></g>
<g id="e4"><text class="t" x="332" y="1488.7">随学诸佛</text><path class="u" d="M327 1491.5H364"/></g>
<g id="e4-1"><text class="t" x="383" y="1479.7">阿弥陀佛和释迦牟尼佛在因地时曾经发愿要在百千万劫中利益十方一切众生</text><path class="u" d="M378 1482.5H632.5"/></g>
<g id="e4-2"><text class="t" x="383" y="1494.7">当他们获得佛果后，确实有无量众生依靠他们灭尽了烦恼，获得了解脱</text><path class="u" d="M378 1497.5H617.5"/></g>
<g id="e5"><text class="t" x="332" y="1519.7">随学之理</text><path class="u" d="M327 1522.5H364"/></g>
<g id="e5-1"><text class="t" x="383" y="1510.7">只要经常像阿弥陀佛和释迦牟尼佛一样发愿，将来也一定能利益无量众生</text><path class="u" d="M378 1513.5H625"/></g>
<g id="e5-2"><text class="t" x="383" y="1525.7">舍弃自私的发愿</text><path class="u" d="M378 1528.5H437.5"/></g>
</g>
</svg>
